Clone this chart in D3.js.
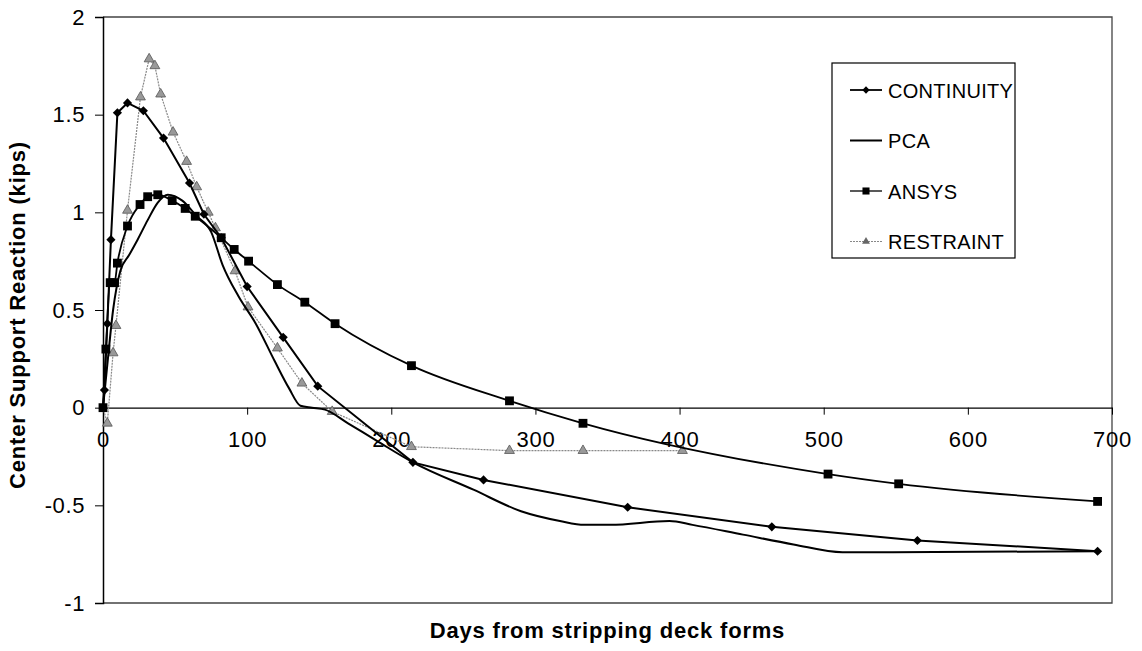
<!DOCTYPE html>
<html>
<head>
<meta charset="utf-8">
<script src="https://cdn.jsdelivr.net/npm/d3@7"></script>
<style>
  body { margin: 0; background: #fff; }
  text { font-family: "Liberation Sans", Arial, sans-serif; }
</style>
</head>
<body>
<div id="main"></div>
<script>
// values: [days, kips]
var continuity = [[0,0],[1,0.09],[3,0.43],[5.5,0.86],[10,1.51],[17,1.56],[28,1.52],[42,1.38],[60,1.15],
  [70,0.99],[82,0.87],[100,0.62],[125,0.36],[149,0.11],[215,-0.28],[264,-0.37],[364,-0.51],[464,-0.61],
  [565,-0.68],[690,-0.735]];
var pca = [[0,0],[3,0.22],[7,0.5],[12,0.70],[18,0.78],[24,0.86],[31,0.96],[38,1.05],[45,1.09],[55,1.06],
  [65,0.98],[75,0.9],[83,0.73],[94,0.57],[106,0.43],[119,0.24],[129,0.1],[137,0.01],[145,0],[154,-0.01],
  [170,-0.08],[190,-0.17],[215,-0.28],[257,-0.42],[290,-0.53],[317,-0.58],[334,-0.6],[352,-0.6],
  [393,-0.58],[409,-0.6],[444,-0.65],[479,-0.7],[513,-0.74],[548,-0.74],[690,-0.735]];
var ansys = [[0,0],[2,0.3],[5,0.64],[8,0.64],[10,0.74],[17,0.93],[25.7,1.04],[31,1.08],[38,1.09],[48,1.06],
  [57,1.02],[64,0.98],[82,0.87],[91,0.81],[101,0.75],[121,0.63],[140,0.54],[161,0.43],[214,0.215],
  [282,0.035],[333,-0.08],[503,-0.34],[552,-0.39],[690,-0.48]];
var restraint = [[0,0],[3,-0.08],[7,0.28],[9,0.42],[17,1.01],[26,1.59],[32,1.785],[36,1.75],[40,1.605],
  [48.6,1.41],[58,1.26],[65,1.13],[73,1.0],[78,0.92],[91.6,0.7],[100.6,0.515],[121,0.305],[138,0.125],
  [159,-0.02],[214,-0.2],[282,-0.22],[333,-0.22],[402,-0.22]];

var seriesNames = ["CONTINUITY", "PCA", "ANSYS", "RESTRAINT"];
var xTicks = [0, 100, 200, 300, 400, 500, 600, 700];
var yTicks = [-1, -0.5, 0, 0.5, 1, 1.5, 2];
var yTickLabels = ["-1", "-0.5", "0", "0.5", "1", "1.5", "2"];

var W = 1142, H = 651;
var plotLeft = 103, plotRight = 1112, plotTop = 17, plotBottom = 603;

var svg = d3.select("#main").append("svg")
    .attr("width", W)
    .attr("height", H);

var x = d3.scaleLinear().domain([0, 700]).range([plotLeft, plotRight]);
var y = d3.scaleLinear().domain([-1, 2]).range([plotBottom, plotTop]);

// plot frame (top, right, bottom)
svg.append("path")
    .attr("d", "M" + plotLeft + "," + plotTop + "H" + plotRight + "V" + plotBottom + "H" + plotLeft)
    .attr("fill", "none")
    .attr("stroke", "#444")
    .attr("stroke-width", 1.3);

// y axis
var yAxis = d3.axisLeft(y)
    .tickValues(yTicks)
    .tickFormat(function(d, i) { return yTickLabels[i]; })
    .tickSize(8)
    .tickPadding(10);
var gy = svg.append("g").attr("transform", "translate(" + plotLeft + ",0)").call(yAxis);
gy.select(".domain").attr("stroke", "#000").attr("stroke-width", 1.5);
gy.selectAll("text").attr("font-size", 22).attr("letter-spacing", 0.6).attr("fill", "#000");

// x axis crossing at zero
var xAxis = d3.axisBottom(x)
    .tickValues(xTicks)
    .tickSize(7)
    .tickSizeOuter(0)
    .tickPadding(17);
var gx = svg.append("g").attr("transform", "translate(0," + y(0) + ")").call(xAxis);
gx.select(".domain").attr("stroke", "#000").attr("stroke-width", 1.2);
gx.selectAll("text").attr("font-size", 22).attr("letter-spacing", 0.8).attr("fill", "#000");

// axis titles
svg.append("text")
    .attr("x", (plotLeft + plotRight) / 2)
    .attr("y", 638)
    .attr("text-anchor", "middle")
    .attr("font-size", 22)
    .attr("letter-spacing", 0.8)
    .attr("font-weight", "bold")
    .text("Days from stripping deck forms");

svg.append("text")
    .attr("transform", "translate(25,315) rotate(-90)")
    .attr("text-anchor", "middle")
    .attr("font-size", 22)
    .attr("letter-spacing", 0.8)
    .attr("font-weight", "bold")
    .text("Center Support Reaction (kips)");

var lineStraight = d3.line().x(function(d) { return x(d[0]); }).y(function(d) { return y(d[1]); });
var lineSmooth = d3.line().x(function(d) { return x(d[0]); }).y(function(d) { return y(d[1]); })
    .curve(d3.curveMonotoneX);

var diamond = d3.symbol().type(d3.symbolSquare).size(42);
var square = d3.symbol().type(d3.symbolSquare).size(78);
var triangle = d3.symbol().type(d3.symbolTriangle).size(42);

// RESTRAINT
svg.append("path").attr("d", lineStraight(restraint))
    .attr("fill", "none").attr("stroke", "#888").attr("stroke-width", 1.2)
    .attr("stroke-dasharray", "2,1");
svg.selectAll(".tri").data(restraint.slice(1)).enter().append("path")
    .attr("transform", function(d) { return "translate(" + x(d[0]) + "," + y(d[1]) + ")"; })
    .attr("d", triangle)
    .attr("fill", "#999").attr("stroke", "#555").attr("stroke-width", 0.8);

// PCA
svg.append("path").attr("d", lineSmooth(pca))
    .attr("fill", "none").attr("stroke", "#000").attr("stroke-width", 2);

// ANSYS
svg.append("path").attr("d", lineSmooth(ansys))
    .attr("fill", "none").attr("stroke", "#000").attr("stroke-width", 1.8);
svg.selectAll(".sq").data(ansys).enter().append("path")
    .attr("transform", function(d) { return "translate(" + x(d[0]) + "," + y(d[1]) + ")"; })
    .attr("d", square)
    .attr("fill", "#000");

// CONTINUITY
svg.append("path").attr("d", lineStraight(continuity))
    .attr("fill", "none").attr("stroke", "#000").attr("stroke-width", 2);
svg.selectAll(".dia").data(continuity.slice(1)).enter().append("path")
    .attr("transform", function(d) { return "translate(" + x(d[0]) + "," + y(d[1]) + ") rotate(45)"; })
    .attr("d", diamond)
    .attr("fill", "#000");

// legend
var lg = svg.append("g");
lg.append("rect")
    .attr("x", 832).attr("y", 63).attr("width", 183).attr("height", 195)
    .attr("fill", "#fff").attr("stroke", "#000").attr("stroke-width", 1.2);

var legendStyles = [
  { stroke: "#000", width: 1.8, dash: null, sym: diamond, fill: "#000", rot: 45 },
  { stroke: "#000", width: 2, dash: null, sym: null },
  { stroke: "#222", width: 1.5, dash: null, sym: square, fill: "#000", rot: 0 },
  { stroke: "#888", width: 1.2, dash: "2,1", sym: triangle, fill: "#666", rot: 0 }
];
seriesNames.forEach(function(name, i) {
  var ly = 90 + i * 50.5;
  var st = legendStyles[i];
  lg.append("line").attr("x1", 850).attr("x2", 882).attr("y1", ly).attr("y2", ly)
      .attr("stroke", st.stroke).attr("stroke-width", st.width)
      .attr("stroke-dasharray", st.dash);
  if (st.sym) {
    lg.append("path").attr("transform", "translate(866," + ly + ") scale(0.8) rotate(" + st.rot + ")")
        .attr("d", st.sym).attr("fill", st.fill);
  }
  lg.append("text").attr("x", 888).attr("y", ly + 7.5)
      .attr("font-size", 20).attr("letter-spacing", 0.3).text(name);
});
</script>
</body>
</html>
